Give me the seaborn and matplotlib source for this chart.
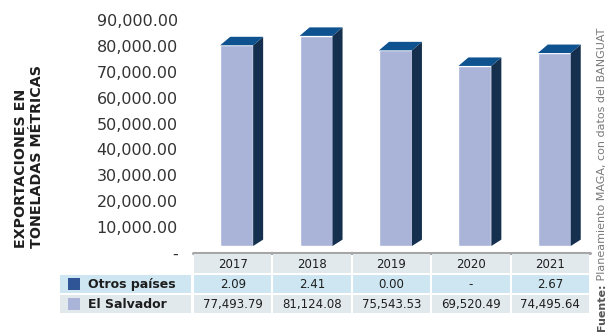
import matplotlib
matplotlib.use("Agg")
import matplotlib.pyplot as plt
from matplotlib.patches import Polygon, Rectangle
import seaborn as sns
import pandas as pd

# --- data -------------------------------------------------------------
years = ["2017", "2018", "2019", "2020", "2021"]
el_salvador = [77493.79, 81124.08, 75543.53, 69520.49, 74495.64]
otros_paises = [2.09, 2.41, 0.00, None, 2.67]
y_ticks = [0, 10000, 20000, 30000, 40000, 50000, 60000, 70000, 80000, 90000]

df = pd.DataFrame({"anio": years, "El Salvador": el_salvador})

# --- style ------------------------------------------------------------
sns.set_style("white")
plt.rcParams["font.family"] = ["DejaVu Sans"]

FRONT = "#a9b4d8"
SIDE = "#15304f"
TOP = "#0f5290"
OTROS = "#2f5597"
ROW_GREY = "#e2e9ec"
ROW_BLUE = "#cde6f1"
FLOOR = "#a6a6a6"
TXT = "#1e1e1e"

W, H = 608, 333
fig = plt.figure(figsize=(W / 100, H / 100), dpi=100)

def fx(px):
    return px / W

def fy(py):
    return 1 - py / H

# plot geometry (pixels)
x_left, x_right = 193, 590
y_zero_bars = 246      # front baseline of the bars
y_zero_scale = 253     # baseline used for the value scale
ymax = 92000
px_per_unit = 25.9 / 10000
ax_h = ymax * px_per_unit

ax = fig.add_axes([fx(x_left), fy(y_zero_bars), fx(x_right) - fx(x_left), ax_h / H])
sns.barplot(data=df, x="anio", y="El Salvador", order=years, color=FRONT,
            saturation=1, width=0.415, ax=ax, zorder=3)
ax.set_xlim(-0.5, len(years) - 0.5)
ax.set_ylim(0, ymax)
ax.axis("off")

# depth of the 3-D bars
col_px = (x_right - x_left) / len(years)
dx = 10 / col_px
dy = 8.5 / px_per_unit
shift = 0.05
for p in ax.patches:
    p.set_x(p.get_x() + shift)
    x0 = p.get_x()
    x1 = x0 + p.get_width()
    h = p.get_height()
    ax.add_patch(Polygon([(x1, 0), (x1 + dx, dy * 0.75), (x1 + dx, h + dy), (x1, h)],
                         closed=True, facecolor=SIDE, edgecolor="none", zorder=3))
    ax.add_patch(Polygon([(x0, h), (x0 + dx, h + dy), (x1 + dx, h + dy), (x1, h)],
                         closed=True, facecolor=TOP, edgecolor="none", zorder=3))

# value scale
ax_s = fig.add_axes([fx(x_left), fy(y_zero_scale), fx(x_right) - fx(x_left), ax_h / H])
ax_s.set_xlim(-0.5, len(years) - 0.5)
ax_s.set_ylim(0, ymax)
ax_s.patch.set_alpha(0)
for s in ax_s.spines.values():
    s.set_visible(False)
ax_s.set_xticks([])
ax_s.set_yticks(y_ticks)
ax_s.set_yticklabels(["-" if v == 0 else f"{v:,.2f}" for v in y_ticks])
ax_s.tick_params(axis="y", length=0, pad=11, labelsize=11.5, labelcolor="#333333")
ax_s.axhline(0.3 / px_per_unit, color=FLOOR, lw=2.2, clip_on=False, zorder=1)

fig.text(fx(29), fy(156), "EXPORTACIONES EN\nTONELADAS MÉTRICAS", rotation=90,
         ha="center", va="center", multialignment="left", fontsize=10.3,
         fontweight="bold", color=TXT, linespacing=1.15)

# --- data table -------------------------------------------------------
tab = fig.add_axes([0, 0, 1, 1])
tab.set_xlim(0, W)
tab.set_ylim(H, 0)
tab.axis("off")

rows = [(254, 273, ROW_GREY), (275, 293, ROW_BLUE), (295, 313, ROW_GREY)]

def fmt(v):
    if v is None:
        return "-"
    return f"{v:,.2f}"

for i, yr in enumerate(years):
    c0 = x_left + col_px * i + 1
    c1 = x_left + col_px * (i + 1) - 1
    cx = (c0 + c1) / 2
    texts = [yr, fmt(otros_paises[i]), fmt(el_salvador[i])]
    for (r0, r1, col), t in zip(rows, texts):
        tab.add_patch(Rectangle((c0, r0), c1 - c0, r1 - r0, facecolor=col, edgecolor="none"))
        tab.text(cx, (r0 + r1) / 2 + 0.5, t, ha="center", va="center",
                 fontsize=8.5, color=TXT)

series_rows = [("Otros países", OTROS, rows[1]), ("El Salvador", FRONT, rows[2])]
for name, colr, (r0, r1, bg) in series_rows:
    tab.add_patch(Rectangle((60, r0), 131, r1 - r0, facecolor=bg, edgecolor="none"))
    tab.add_patch(Rectangle((68, (r0 + r1) / 2 - 6), 12, 12, facecolor=colr, edgecolor="none"))
    tab.text(88, (r0 + r1) / 2 + 0.5, name, ha="left", va="center", fontsize=9,
             fontweight="bold", color=TXT)

# source note
src = fig.text(fx(602), fy(331), "Fuente:", rotation=90, ha="center", va="bottom",
               fontsize=8, fontweight="bold", color="#555555")
fig.add_artist(plt.Annotation(" Planeamiento MAGA, con datos del BANGUAT", xy=(0.5, 1),
                              xycoords=src, ha="center", va="bottom", rotation=90,
                              fontsize=8, color="#7a7a7a"))

fig.savefig("out.png", dpi=100)
